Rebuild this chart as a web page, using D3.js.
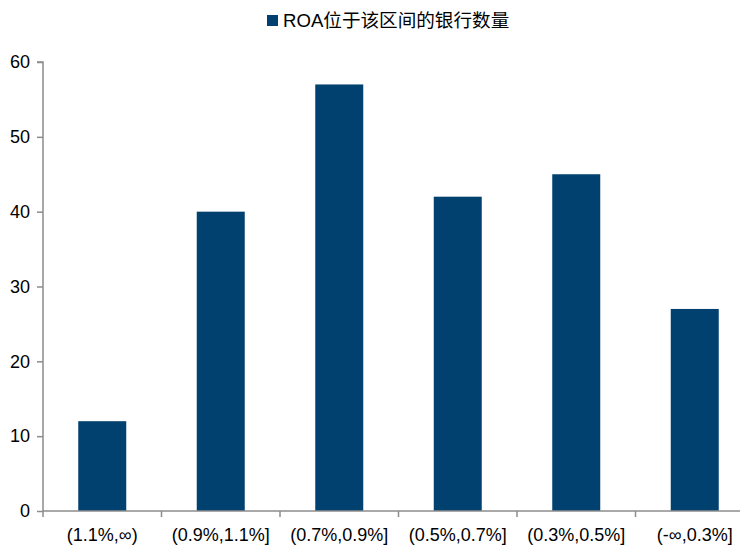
<!DOCTYPE html>
<html>
<head>
<meta charset="utf-8">
<script src="https://cdn.jsdelivr.net/npm/d3@7"></script>
<style>
  html, body { margin: 0; padding: 0; background: #fff; }
  svg { display: block; font-family: "Liberation Sans", Arial, "Noto Sans CJK SC", sans-serif; }
</style>
</head>
<body>
<svg id="chart" width="740" height="545"></svg>
<script>
// ROA buckets and number of banks in each
const categories = ["(1.1%,∞)", "(0.9%,1.1%]", "(0.7%,0.9%]", "(0.5%,0.7%]", "(0.3%,0.5%]", "(-∞,0.3%]"];
const bankCounts = [12, 40, 57, 42, 45, 27];
const yTicks = [0, 10, 20, 30, 40, 50, 60];
const seriesName = "ROA位于该区间的银行数量";

const barColor = "#00416f";
const axisColor = "#8c8c8c";
const fontSize = 18;

const svg = d3.select("#chart");
const left = 43, zeroY = 511, topY = 62, band = 118.5;

const x = d3.scaleBand()
  .domain(categories)
  .range([left, left + band * categories.length])
  .paddingInner(0.595)
  .paddingOuter(0.2975);

const y = d3.scaleLinear().domain([0, 60]).range([zeroY, topY]);

// bars
svg.append("g").selectAll("rect")
  .data(bankCounts)
  .join("rect")
  .attr("x", (d, i) => x(categories[i]))
  .attr("width", x.bandwidth())
  .attr("y", d => y(d))
  .attr("height", d => y(0) - y(d))
  .attr("fill", barColor);

// y axis
const yAxis = svg.append("g")
  .attr("transform", `translate(${left},0)`)
  .call(d3.axisLeft(y).tickValues(yTicks).tickSize(6).tickPadding(7).tickFormat(d3.format("d")));
yAxis.select(".domain").attr("d", `M-6,${topY}H0V${zeroY}`);
yAxis.selectAll("line, path").attr("stroke", axisColor).attr("stroke-width", 1.5);
yAxis.selectAll("text").attr("font-size", fontSize).attr("fill", "#000")
  .style("font-family", '"Liberation Sans", Arial, sans-serif');

// x axis: tick marks on band boundaries, labels centred under bars
const xg = svg.append("g");
xg.append("line")
  .attr("x1", left).attr("x2", 740)
  .attr("y1", zeroY).attr("y2", zeroY)
  .attr("stroke", axisColor).attr("stroke-width", 1.5);
xg.selectAll("line.tick")
  .data(d3.range(categories.length))
  .join("line")
  .attr("class", "tick")
  .attr("x1", i => left + band * i).attr("x2", i => left + band * i)
  .attr("y1", zeroY).attr("y2", zeroY + 6)
  .attr("stroke", axisColor).attr("stroke-width", 1.5);
xg.selectAll("text")
  .data(categories)
  .join("text")
  .attr("x", d => x(d) + x.bandwidth() / 2)
  .attr("y", 541)
  .attr("text-anchor", "middle")
  .attr("font-size", fontSize)
  .attr("fill", "#000")
  .text(d => d);

// legend
const legend = svg.append("g");
legend.append("rect")
  .attr("x", 267).attr("y", 15).attr("width", 11).attr("height", 11)
  .attr("fill", barColor);
legend.append("text")
  .attr("x", 283).attr("y", 27)
  .attr("font-size", 18.6)
  .attr("fill", "#000")
  .style("font-family", '"Liberation Sans", Arial, "Noto Sans CJK SC", sans-serif')
  .text(seriesName);
</script>
</body>
</html>
